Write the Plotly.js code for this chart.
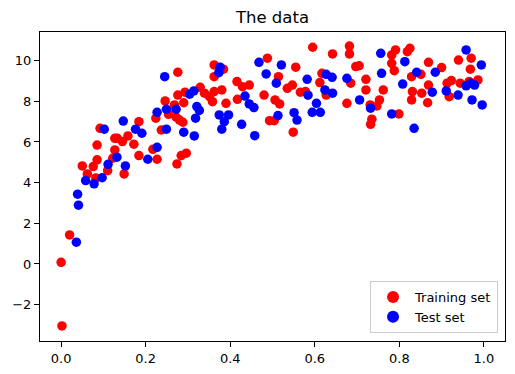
<!DOCTYPE html>
<html>
<head>
<meta charset="utf-8">
<script src="https://cdn.plot.ly/plotly-3.0.1.min.js"></script>
<style>html,body{margin:0;padding:0;background:#fff;}#chart{width:515px;height:374px;}</style>
</head>
<body>
<div id="chart"></div>
<script>
const trainX = [0.000,0.002,0.020,
0.276,0.329,0.276,0.293,0.246,0.268,0.290,0.254,0.224,0.272,0.280,0.288,0.184,0.237,0.092,0.127,0.133,0.158,0.145,0.085,0.172,0.127,0.217,0.184,0.227,0.284,0.296,0.274,0.085,0.076,0.050,0.122,0.110,0.149,0.062,0.082,
0.595,0.642,0.488,0.362,0.384,0.362,0.555,0.514,0.617,0.612,0.339,0.351,0.362,0.380,0.358,0.390,0.416,0.429,0.445,0.417,0.480,0.506,0.517,0.535,0.547,0.566,0.578,0.627,0.676,0.493,0.504,0.549,
0.682,0.682,0.697,0.705,0.685,0.721,0.721,0.762,0.782,0.791,0.782,0.788,0.819,0.825,0.829,0.851,0.831,0.829,0.853,0.869,0.869,0.867,0.900,0.913,0.923,0.918,0.940,0.970,0.968,0.944,0.986,0.965,0.753,0.747,0.731,0.735,0.732,0.799];
const trainY = [0.08,-3.05,1.43,
9.43,8.69,8.31,8.45,8.02,7.82,7.93,7.36,7.17,7.22,7.08,6.97,7.00,6.59,6.67,6.18,6.18,6.30,6.02,5.85,5.89,5.61,5.64,5.33,5.15,5.33,5.45,4.92,5.12,4.79,4.82,5.20,4.59,4.43,4.43,4.23,
10.66,10.33,10.12,9.79,9.58,9.21,9.68,9.21,9.38,8.92,8.40,8.23,8.48,8.56,7.98,7.90,8.97,8.72,8.80,8.10,8.31,8.07,7.87,8.64,8.80,8.45,8.48,8.31,7.90,7.05,7.05,6.48,
10.72,10.33,9.71,9.75,8.89,9.08,8.56,8.56,10.28,10.53,9.87,9.51,10.44,10.61,9.21,9.33,8.48,8.07,8.40,9.92,8.80,7.93,9.66,8.89,9.02,8.23,10.03,10.12,9.58,8.89,9.05,8.97,8.07,7.77,7.82,7.12,6.87,7.38];

const testX = [0.036,0.041,0.039,
0.245,0.314,0.304,0.227,0.249,0.272,0.321,0.318,0.147,0.102,0.176,0.191,0.249,0.290,0.315,0.227,0.132,0.205,0.111,0.152,0.097,0.058,0.078,
0.468,0.521,0.376,0.373,0.485,0.509,0.582,0.627,0.641,0.676,0.584,0.624,0.642,0.435,0.445,0.456,0.327,0.374,0.396,0.386,0.380,0.427,0.458,0.513,0.551,0.558,0.604,0.594,0.613,
0.756,0.758,0.813,0.841,0.808,0.885,0.878,0.911,0.939,0.706,0.732,0.782,0.835,0.958,0.994,0.958,0.969,0.978,0.972,0.996];
const testY = [1.07,2.89,3.43,
9.21,8.51,8.35,7.46,7.61,7.61,7.74,7.17,7.03,6.63,6.63,6.43,6.63,6.48,6.30,5.74,5.25,5.15,4.90,4.82,4.24,4.10,3.94,
9.92,9.79,9.68,9.41,9.35,8.89,9.08,9.33,9.18,9.13,8.30,8.56,8.40,8.26,7.87,7.69,7.55,7.33,7.33,7.00,6.63,6.87,6.31,7.30,7.44,7.08,7.90,7.46,7.46,
10.36,9.38,9.95,9.43,8.85,9.43,8.45,8.51,8.31,8.07,7.66,7.38,6.67,10.53,9.79,8.76,8.89,8.80,8.07,7.82];

const xTicks = [0.0,0.2,0.4,0.6,0.8,1.0];
const yTicks = [-2,0,2,4,6,8,10];

const font = {family: 'DejaVu Sans, sans-serif', size: 13, color: '#000'};

const traces = [
  {x: trainX, y: trainY, type: 'scatter', mode: 'markers', name: 'Training set',
   marker: {color: '#ff0000', size: 9.5, line: {width: 0}}},
  {x: testX, y: testY, type: 'scatter', mode: 'markers', name: 'Test set',
   marker: {color: '#0000ff', size: 9.5, line: {width: 0}}}
];

const axisCommon = {
  showgrid: false, zeroline: false, showline: true, mirror: true,
  linecolor: '#000', linewidth: 1, ticks: 'outside', ticklen: 5, tickwidth: 1,
  tickcolor: '#000', tickfont: font
};

const layout = {
  width: 515, height: 374,
  margin: {l: 40, r: 10, t: 32, b: 33},
  paper_bgcolor: '#fff', plot_bgcolor: '#fff',
  font: font,
  title: {text: 'The data', font: {family: 'DejaVu Sans, sans-serif', size: 16.5, color: '#000'},
          x: 0.5, xref: 'paper', xanchor: 'center', y: 1 - 17/374, yref: 'container', yanchor: 'middle'},
  xaxis: Object.assign({}, axisCommon, {range: [-0.05, 1.05], tickvals: xTicks,
          ticktext: xTicks.map(v => v.toFixed(1))}),
  yaxis: Object.assign({}, axisCommon, {range: [-3.79, 11.41], tickvals: yTicks,
          ticktext: yTicks.map(v => v < 0 ? '\u2212' + Math.abs(v) : String(v))}),
  showlegend: true,
  legend: {x: 0.985, xanchor: 'right', y: 0.026, yanchor: 'bottom',
           bgcolor: 'rgba(255,255,255,0.8)', bordercolor: '#cccccc', borderwidth: 1,
           font: font, itemsizing: 'constant', itemwidth: 34, tracegroupgap: 2}
};

Plotly.newPlot('chart', traces, layout, {displayModeBar: false, staticPlot: true});
</script>
</body>
</html>
